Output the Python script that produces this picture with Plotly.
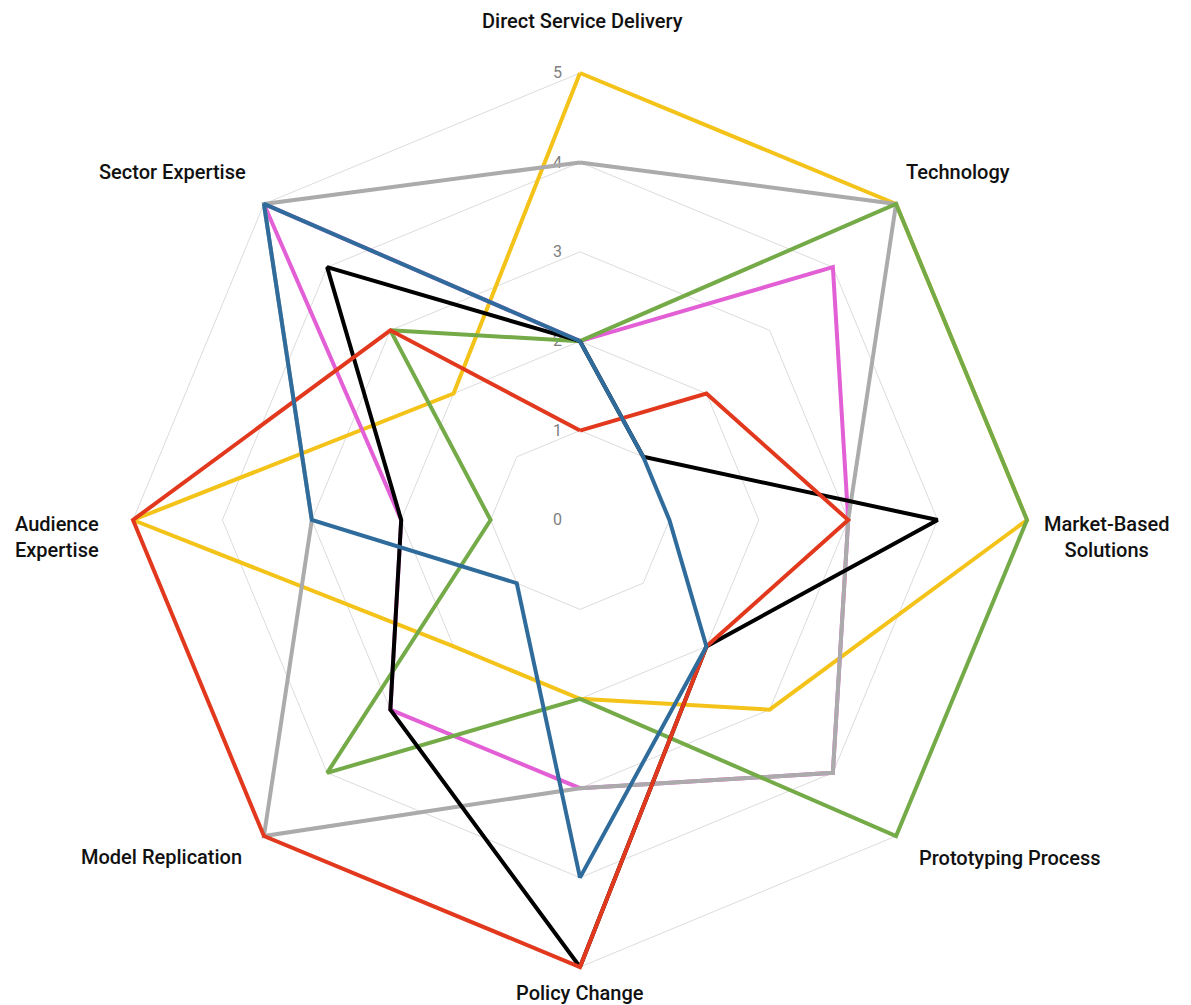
import plotly.graph_objects as go

categories = ["Direct Service Delivery", "Technology", "Market-Based<br>Solutions",
              "Prototyping Process", "Policy Change", "Model Replication",
              "Audience<br>Expertise", "Sector Expertise"]

yellow_vals = [5, 5, 5, 3, 2, 2, 5, 2]
pink_vals = [2, 4, 3, 4, 3, 3, 2, 5]
gray_vals = [4, 5, 3, 4, 3, 5, 3, 5]
green_vals = [2, 5, 5, 5, 2, 4, 1, 3]
black_vals = [2, 1, 4, 2, 5, 3, 2, 4]
red_vals = [1, 2, 3, 2, 5, 5, 5, 3]
blue_vals = [2, 1, 1, 2, 4, 1, 3, 5]

radial_ticks = [0, 1, 2, 3, 4, 5]

series = [
    (yellow_vals, "#F4C31A"),
    (pink_vals, "#E25FD6"),
    (gray_vals, "#ABABAB"),
    (green_vals, "#74AB48"),
    (black_vals, "#000000"),
    (red_vals, "#E2391E"),
    (blue_vals, "#2F6C9C"),
]

FONT = "Roboto, Lato, sans-serif"

fig = go.Figure()
for vals, col in series:
    fig.add_trace(go.Scatterpolar(
        r=vals + vals[:1],
        theta=categories + categories[:1],
        mode="lines",
        line=dict(color=col, width=4),
        cliponaxis=False,
        showlegend=False,
        hoverinfo="skip",
    ))

W, H = 1191, 1005
cx, cy = 580, 520
R5 = 447            # pixel radius of value 5
RMAX = 5.12         # axis range top (keeps outer lines unclipped)
R = R5 * RMAX / 5

# category label placement (pixel centres) — layout only
label_pos = [(582, 21), (958, 172), (1106, 537), (1010, 858),
             (580, 993), (161, 857), (57, 537), (172, 172)]
for cat, (px, py) in zip(categories, label_pos):
    fig.add_annotation(
        x=px / W, y=1 - py / H, xref="paper", yref="paper",
        text=cat, showarrow=False, xanchor="center", yanchor="middle",
        font=dict(family=FONT, size=20, color="#111111", weight=500),
        align="center",
    )

fig.update_layout(
    width=W, height=H,
    margin=dict(l=0, r=0, t=0, b=0),
    paper_bgcolor="white",
    plot_bgcolor="white",
    polar=dict(
        domain=dict(x=[(cx - R) / W, (cx + R) / W],
                    y=[(H - cy - R) / H, (H - cy + R) / H]),
        gridshape="linear",
        bgcolor="white",
        radialaxis=dict(
            range=[0, RMAX],
            tickvals=radial_ticks,
            angle=90,
            tickangle=90,
            side="counterclockwise",
            showline=False,
            gridcolor="#DCDCDC",
            gridwidth=1,
            ticks="outside",
            ticklen=12,
            tickcolor="rgba(0,0,0,0)",
            tickfont=dict(family=FONT, size=16, color="#808080"),
            layer="below traces",
        ),
        angularaxis=dict(
            rotation=90,
            direction="clockwise",
            showgrid=False,
            showline=False,
            showticklabels=False,
            ticks="",
        ),
    ),
)

fig.write_html("out.html")
